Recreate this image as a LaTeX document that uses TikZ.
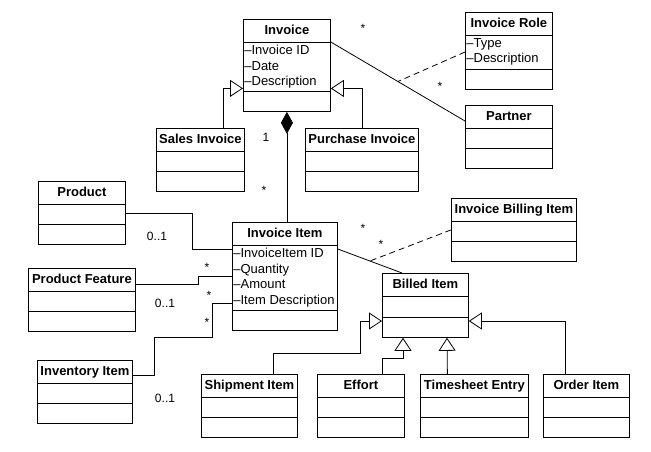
\documentclass[tikz,border=0pt]{standalone}
\usepackage{fontspec}
\setmainfont{Liberation Sans}
\usetikzlibrary{arrows.meta,positioning,calc}

% one UML class: name, top-left corner, width, title, height of attribute part, attributes
\newcommand{\umlclass}[6]{%
  \node[classbox, minimum width=#3pt, minimum height={43pt+#5pt}] (#1) at (#2) {};
  \node[classtitle] (#1-title) at (#1.north) {#4};
  \draw[divline] ($(#1.north west)+(0,23)$) -- ++(#3,0);
  \draw[divline] ($(#1.north west)+(0,23+#5)$) -- ++(#3,0);
  \node[attrtext] (#1-attrs) at ($(#1.north west)+(0,23)$) {#6};
}

\begin{document}
\begin{tikzpicture}[x=1pt, y=-1pt, line width=0.8pt,
    font=\fontsize{13}{15.5}\selectfont]
  \tikzset{
    classbox/.style={draw, anchor=north west, inner sep=0pt},
    classtitle/.style={anchor=north, inner sep=0pt, minimum height=23pt,
      text height=10pt, text depth=2pt, font=\fontsize{13}{15.5}\selectfont\bfseries},
    divline/.style={line width=0.8pt},
    attrtext/.style={anchor=north west, align=left, inner xsep=1pt, inner ysep=3pt},
    genarrow/.style={-{Triangle[open, length=13pt, width=17pt]}},
    mult/.style={inner sep=0pt, font=\fontsize{12}{14}\selectfont},
    assoc/.style={dashed, dash pattern=on 6pt off 4pt}
  }
  \useasboundingbox (0,0) rectangle (651,451);

  % classes
  \umlclass{inv}{243,19}{87}{Invoice}{49}{\textendash Invoice ID\\\textendash Date\\\textendash Description}
  \umlclass{si}{156,128}{88}{Sales Invoice}{20}{}
  \umlclass{pi}{305,128}{113}{Purchase Invoice}{20}{}
  \umlclass{role}{465,12}{87}{Invoice Role}{34}{\textendash Type\\\textendash Description}
  \umlclass{partner}{465,105}{87}{Partner}{20}{}
  \umlclass{product}{38,181}{87}{Product}{20}{}
  \umlclass{pf}{28,268}{107}{Product Feature}{20}{}
  \umlclass{invent}{37,360}{95}{Inventory Item}{20}{}
  \umlclass{item}{232,222}{105}{Invoice Item}{65}{\textendash InvoiceItem ID\\\textendash Quantity\\\textendash Amount\\\textendash Item Description}
  \umlclass{ibi}{451,198}{125}{Invoice Billing Item}{20}{}
  \umlclass{billed}{382,273}{86}{Billed Item}{21}{}
  \umlclass{ship}{201,374}{96}{Shipment Item}{20}{}
  \umlclass{effort}{317,374}{87}{Effort}{20}{}
  \umlclass{ts}{420,374}{108}{Timesheet Entry}{20}{}
  \umlclass{order}{543,374}{86}{Order Item}{20}{}

  % invoice subtypes
  \draw[genarrow] ($(si.north)+(23,0)$) |- ($(inv.west)+(0,23)$);
  \draw[genarrow] (pi.north) |- ($(inv.east)+(0,23)$);

  % invoice consists of items
  \draw[{Diamond[length=22pt, width=12pt]}-] (inv.south) -- (inv.south |- item.north);
  \node[mult] (m-inv-one) at (266,137) {1};
  \node[mult] (m-inv-many) at (264,190) {*};

  % invoice and partner, with the role
  \draw ($(inv.north east)+(0,23)$) -- coordinate[pos=0.5] (inv-partner) ($(partner.north west)+(0,16)$);
  \draw[assoc] ($(role.north west)+(0,40)$) -- (inv-partner);
  \node[mult] (m-partner-inv) at (363,28) {*};
  \node[mult] (m-partner-role) at (440,86) {*};

  % item and billed item, with the billing
  \draw ($(item.north east)+(0,27)$) -- coordinate[pos=0.5] (item-billed) ($(billed.north west)+(20,0)$);
  \draw[assoc] (ibi.west) -- (item-billed);
  \node[mult] (m-billed-item) at (363,228) {*};
  \node[mult] (m-billed-ibi) at (381,244) {*};

  % what an item refers to
  \draw (product.east) -- ++(67,0) |- ($(item.north west)+(0,27)$);
  \node[mult] (m-product) at (157,236) {0..1};
  \draw ($(pf.north east)+(0,16)$) -- ++(63,0) |- ($(item.north west)+(0,54)$);
  \node[mult] (m-pf-many) at (207,267) {*};
  \node[mult] (m-pf) at (165,303) {0..1};
  \draw ($(invent.north east)+(0,15)$) -- ++(22,0) -- ++(0,-38) -- ++(58,0) |- ($(item.north west)+(0,81)$);
  \node[mult] (m-invent-a) at (209,295) {*};
  \node[mult] (m-invent-b) at (207,322) {*};
  \node[mult] (m-invent) at (165,398) {0..1};

  % billed item subtypes
  \draw[genarrow] ($(ship.north)+(24,0)$) -- ++(0,-21) -- ++(87,0) |- ($(billed.north west)+(0,48)$);
  \draw[genarrow] ($(effort.north)+(21.5,0)$) -- ++(0,-16) -| ($(billed.south west)+(21,0)$);
  \draw[genarrow] ($(ts.north)+(-27,0)$) -- ($(billed.south west)+(65,0)$);
  \draw[genarrow] ($(order.north)+(-21,0)$) |- ($(billed.north east)+(0,48)$);
\end{tikzpicture}
\end{document}
